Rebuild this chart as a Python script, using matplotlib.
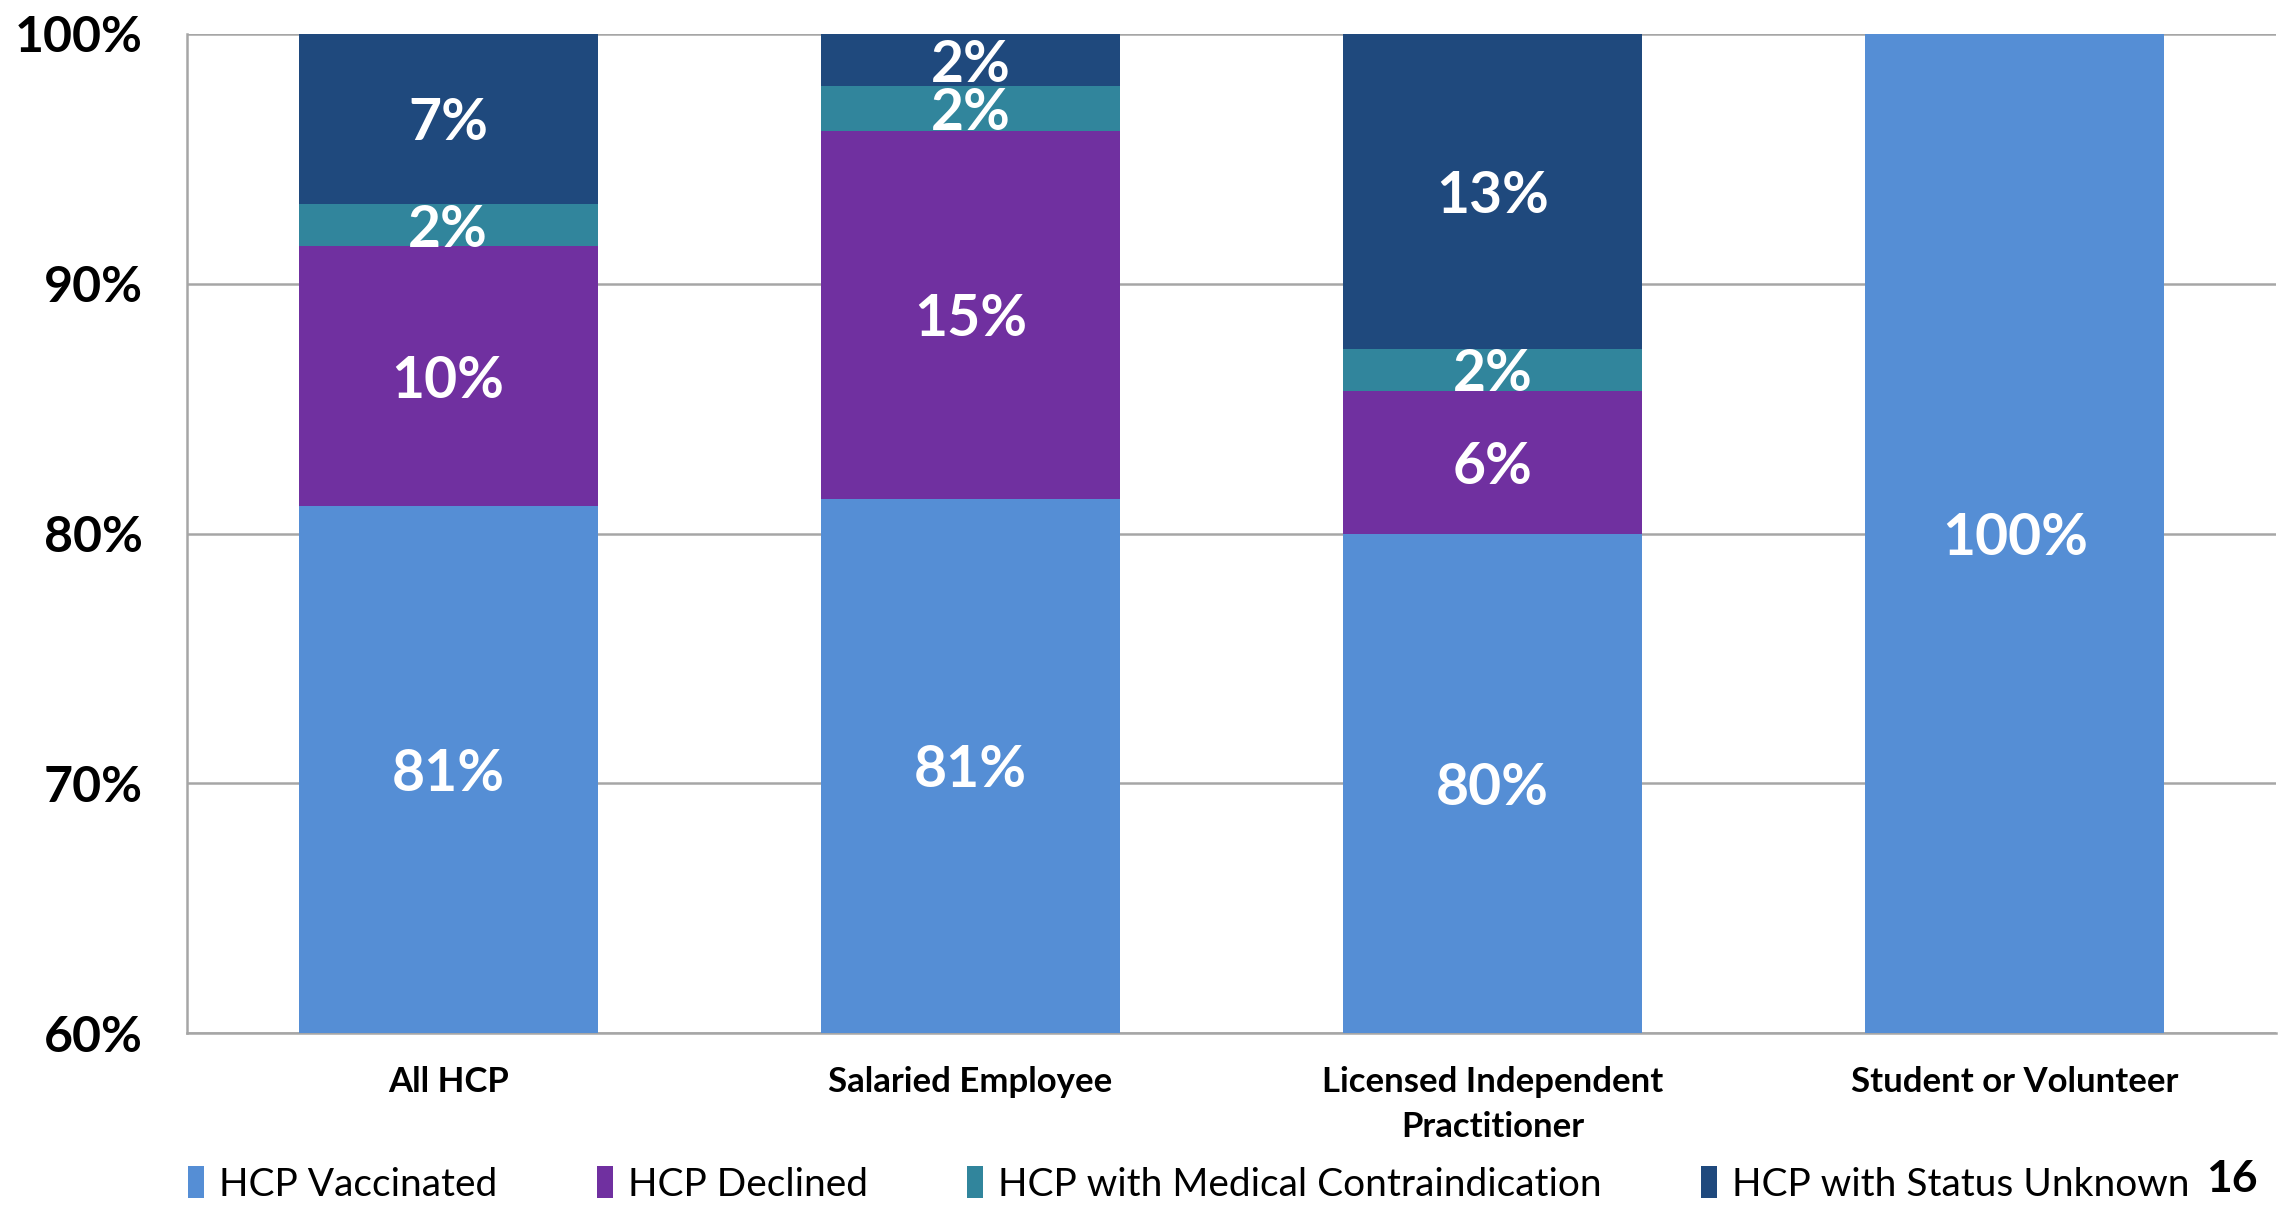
import matplotlib
matplotlib.use("Agg")
import matplotlib.pyplot as plt
import numpy as np

categories = ["All HCP", "Salaried Employee", "Licensed Independent\nPractitioner", "Student or Volunteer"]
vaccinated = [81.1, 81.4, 80.0, 100.0]
declined = [10.4, 14.7, 5.7, 0.0]
contraindication = [1.7, 1.8, 1.7, 0.0]
unknown = [6.8, 2.1, 12.6, 0.0]
series_names = ["HCP Vaccinated", "HCP Declined", "HCP with Medical Contraindication", "HCP with Status Unknown"]
label_vacc = ["81%", "81%", "80%", "100%"]
label_decl = ["10%", "15%", "6%", ""]
label_contra = ["2%", "2%", "2%", ""]
label_unk = ["7%", "2%", "13%", ""]
yticks = [60, 70, 80, 90, 100]
ytick_labels = ["60%", "70%", "80%", "90%", "100%"]

colors = ["#558ED5", "#7030A0", "#31859C", "#1F497D"]
FONT = ["Lato", "DejaVu Sans"]
plt.rcParams['font.family'] = FONT

fig = plt.figure(figsize=(22.88, 12.06), dpi=100)
ax = fig.add_axes([187/2288, 1 - 1033/1206, (2276-187)/2288, (1033-34)/1206])

x = np.arange(len(categories))
width = 0.573
ymin, ymax = 60, 100
series = [vaccinated, declined, contraindication, unknown]
labels = [label_vacc, label_decl, label_contra, label_unk]
bottom = np.zeros(len(categories))
handles = []
for vals, col, name, labs in zip(series, colors, series_names, labels):
    vals = np.array(vals)
    b = ax.bar(x, vals, width, bottom=bottom, color=col, label=name, zorder=3,
               edgecolor='none')
    handles.append(b)
    for xi, lo, v, lab in zip(x, bottom, vals, labs):
        if v <= 0 or not lab:
            continue
        lo_v = max(lo, ymin)
        hi_v = min(lo + v, ymax)
        ax.text(xi, (lo_v + hi_v) / 2, lab, ha='center', va='center_baseline', color='white',
                fontsize=41, fontweight='bold', zorder=5)
    bottom = bottom + vals

ax.set_ylim(ymin, ymax)
ax.set_xlim(-0.5, len(categories) - 0.5)
ax.set_yticks(yticks)
ax.set_yticklabels(ytick_labels, fontsize=36, fontweight='bold')
ax.set_xticks(x)
ax.set_xticklabels(categories, fontsize=25, fontweight='bold')
for t in ax.get_xticklabels():
    t.set_linespacing(1.5)
ax.tick_params(axis='y', length=0, pad=32)
ax.tick_params(axis='x', length=0, pad=24)
ax.yaxis.grid(True, color='#A6A6A6', linewidth=1.8, zorder=0)
ax.set_axisbelow(True)
for s in ['top', 'right']:
    ax.spines[s].set_visible(False)
ax.spines['left'].set_color('#A6A6A6')
ax.spines['left'].set_linewidth(1.8)
ax.spines['bottom'].set_color('#A6A6A6')
ax.spines['bottom'].set_linewidth(1.8)

leg = fig.legend(handles=handles, labels=series_names, loc='center left',
                 bbox_to_anchor=(188/2288, 0.018), ncol=4, frameon=False,
                 fontsize=28, handlelength=0.42, handleheight=0.9,
                 handletextpad=0.38, columnspacing=2.55, borderpad=0, borderaxespad=0)

fig.text(0.9755, 0.006, "16", fontsize=32, fontweight='bold', ha='center', va='bottom')

fig.savefig("out.png", dpi=100)
